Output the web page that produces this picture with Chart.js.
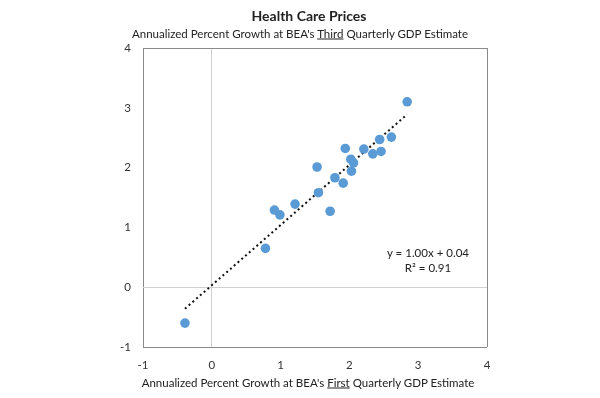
<!DOCTYPE html>
<html>
<head>
<meta charset="utf-8">
<script src="https://cdn.jsdelivr.net/npm/chart.js@4.4.1/dist/chart.umd.min.js"></script>
<style>
  html, body { margin:0; padding:0; background:#fff; }
  #wrap { position:relative; width:600px; height:398px; font-family:Lato, "Open Sans", sans-serif; color:#222; }
  #wrap canvas { position:absolute; left:0; top:0; }
  .txt { position:absolute; white-space:nowrap; transform:translate(-50%,-50%); }
  #title { left:309px; top:15px; font-size:14px; font-weight:bold; }
  #sub { left:300px; top:33px; font-size:11.5px; }
  #xtitle { left:308px; top:382px; font-size:11.5px; }
  .eq { font-size:11.5px; }
</style>
</head>
<body>
<div id="wrap">
  <canvas id="chart" width="600" height="398"></canvas>
  <div class="txt" id="title">Health Care Prices</div>
  <div class="txt" id="sub">Annualized Percent Growth at BEA's <u>Third</u> Quarterly GDP Estimate</div>
  <div class="txt" id="xtitle">Annualized Percent Growth at BEA's <u>First</u> Quarterly GDP Estimate</div>
  <div class="txt eq" style="left:428px;top:252px">y = 1.00x + 0.04</div>
  <div class="txt eq" style="left:428px;top:267px">R² = 0.91</div>
</div>
<script>
// first estimate (x) vs third estimate (y)
const firstEst = [2.84, 2.61, 2.44, 2.46, 2.34, 2.21, 1.94, 2.02, 2.06, 2.03, 1.53, 1.79, 1.91, 1.55, 1.21, 1.72, 0.91, 0.99, 0.78, -0.39];
const thirdEst = [3.10, 2.51, 2.47, 2.27, 2.23, 2.31, 2.32, 2.14, 2.08, 1.94, 2.01, 1.83, 1.74, 1.58, 1.39, 1.27, 1.29, 1.21, 0.65, -0.60];
// trendline ends
const trendX = [-0.39, 2.84];
const trendY = [-0.36, 2.89];
const axisTicks = [-1, 0, 1, 2, 3, 4];

const pts = firstEst.map((x, i) => ({x: x, y: thirdEst[i]}));
const trend = trendX.map((x, i) => ({x: x, y: trendY[i]}));

const gridColor = ctx => {
  const v = ctx.tick && ctx.tick.value;
  if (v === 0) return '#d0d0d0';
  if (v === -1 || v === 4) return '#8a8a8a';
  return 'rgba(0,0,0,0)';
};

new Chart(document.getElementById('chart'), {
  type: 'scatter',
  data: {
    datasets: [
      { label:'Linear', type:'line', data: trend, borderColor:'#111', borderWidth:2,
        borderDash:[2,3], pointRadius:0, fill:false, order:2 },
      { label:'Health Care Prices', data: pts, backgroundColor:'#5b9bd5', borderColor:'#5b9bd5',
        pointRadius:4.8, borderWidth:0, order:1 }
    ]
  },
  options: {
    responsive:false, animation:false,
    layout:{ padding:{ left:0, right:113, top:48, bottom:0 } },
    plugins:{ legend:{display:false}, tooltip:{enabled:false} },
    scales:{
      x:{ type:'linear', min:-1, max:4,
          afterBuildTicks: s => { s.ticks = axisTicks.map(v => ({value:v})); },
          afterFit: s => { s.height = 51; },
          border:{display:false},
          grid:{ color:gridColor, lineWidth:1, drawTicks:false },
          ticks:{ padding:11, color:'#333', font:{family:'Lato', size:11.5}, maxRotation:0 } },
      y:{ type:'linear', min:-1, max:4,
          afterBuildTicks: s => { s.ticks = axisTicks.map(v => ({value:v})); },
          afterFit: s => { s.width = 143; },
          border:{display:false},
          grid:{ color:gridColor, lineWidth:1, drawTicks:false },
          ticks:{ padding:12, color:'#333', font:{family:'Lato', size:11.5} } }
    }
  }
});
</script>
</body>
</html>
